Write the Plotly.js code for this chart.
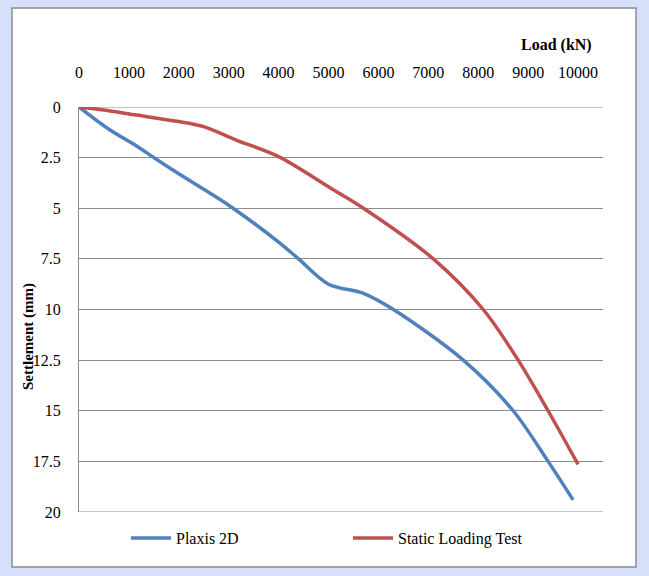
<!DOCTYPE html>
<html>
<head>
<meta charset="utf-8">
<script src="https://cdn.plot.ly/plotly-3.0.1.min.js"></script>
<style>
  html, body { margin: 0; padding: 0; background: #d6e0fa; }
  #chart { width: 649px; height: 576px; }
</style>
</head>
<body>
<div id="chart"></div>
<script>
// Data
const plaxisLoad = [0, 600, 1200, 1500, 2000, 3000, 4000, 4400, 5000, 5700, 6300, 7700, 8700, 9400, 9900];
const plaxisSettlement = [0, 1.1, 2.0, 2.5, 3.3, 4.85, 6.67, 7.5, 8.75, 9.2, 10.0, 12.5, 15.0, 17.5, 19.4];

const slpLoad = [0, 500, 1150, 2000, 2500, 3150, 4000, 5040, 5700, 7100, 8100, 8800, 9400, 10000];
const slpSettlement = [0, 0.15, 0.4, 0.72, 0.97, 1.63, 2.45, 4.0, 5.0, 7.5, 10.0, 12.5, 15.0, 17.65];

const xTicks = [0, 1000, 2000, 3000, 4000, 5000, 6000, 7000, 8000, 9000, 10000];
const yTicks = [0, 2.5, 5, 7.5, 10, 12.5, 15, 17.5, 20];
const seriesNames = ["Plaxis 2D", "Static Loading Test"];

const FONT = "Liberation Serif, Times New Roman, serif";

const traces = [
  {
    x: plaxisLoad, y: plaxisSettlement, name: seriesNames[0],
    type: "scatter", mode: "lines",
    line: { color: "#4f81bd", width: 3.5, shape: "spline", smoothing: 0.9 }
  },
  {
    x: slpLoad, y: slpSettlement, name: seriesNames[1],
    type: "scatter", mode: "lines",
    line: { color: "#c0504d", width: 3.5, shape: "spline", smoothing: 0.9 }
  }
];

const L = 79, R = 46, T = 107, B = 64, W = 649, H = 576;
const pw = W - L - R, ph = H - T - B;
const px = v => (v - L) / pw;
const py = v => (H - B - v) / ph;

const layout = {
  width: W, height: H,
  margin: { l: L, r: R, t: T, b: B, pad: 0 },
  paper_bgcolor: "#d6e0fa",
  plot_bgcolor: "#ffffff",
  font: { family: FONT, size: 16, color: "#000000" },
  showlegend: true,
  legend: {
    orientation: "h",
    x: px(126), y: py(538), xanchor: "left", yanchor: "middle",
    bgcolor: "rgba(0,0,0,0)",
    font: { family: FONT, size: 16, color: "#000" },
    entrywidth: 167, entrywidthmode: "pixels",
    itemwidth: 40
  },
  xaxis: {
    side: "top",
    range: [0, 10500],
    tickvals: xTicks,
    ticktext: xTicks.map(String),
    ticks: "outside", ticklen: 22, tickcolor: "rgba(0,0,0,0)",
    showgrid: false, zeroline: false, showline: false,
    tickfont: { family: FONT, size: 16, color: "#000" }
  },
  yaxis: {
    range: [20, 0],
    tickvals: yTicks,
    ticktext: yTicks.map(String),
    ticks: "outside", ticklen: 14, tickcolor: "rgba(0,0,0,0)",
    showgrid: true, gridcolor: "#8c8c8c", gridwidth: 1,
    zeroline: false,
    showline: true, linecolor: "#8c8c8c", linewidth: 1,
    tickfont: { family: FONT, size: 16, color: "#000" }
  },
  shapes: [
    {
      type: "rect", xref: "paper", yref: "paper", layer: "below",
      x0: px(12), x1: px(636), y0: py(567), y1: py(8),
      fillcolor: "#ffffff", line: { color: "#8c8c8c", width: 1.5 }
    },
    {
      type: "line", xref: "paper", yref: "y", layer: "below",
      x0: 0, x1: 1, y0: yTicks[0], y1: yTicks[0],
      line: { color: "#8c8c8c", width: 1 }
    },
    {
      type: "line", xref: "paper", yref: "y", layer: "below",
      x0: 0, x1: 1, y0: yTicks[yTicks.length - 1], y1: yTicks[yTicks.length - 1],
      line: { color: "#8c8c8c", width: 1 }
    }
  ],
  annotations: [
    {
      text: "<b>Load (kN)</b>", xref: "paper", yref: "paper",
      x: px(594), y: py(45), xanchor: "right", yanchor: "middle",
      showarrow: false, font: { family: FONT, size: 16, color: "#000" }
    },
    {
      text: "<b>Settlement (mm)</b>", xref: "paper", yref: "paper",
      x: px(28), y: py(337), xanchor: "center", yanchor: "middle",
      textangle: -90, showarrow: false,
      font: { family: FONT, size: 15, color: "#000" }
    }
  ]
};

Plotly.newPlot("chart", traces, layout, { displayModeBar: false, staticPlot: true });
</script>
</body>
</html>
